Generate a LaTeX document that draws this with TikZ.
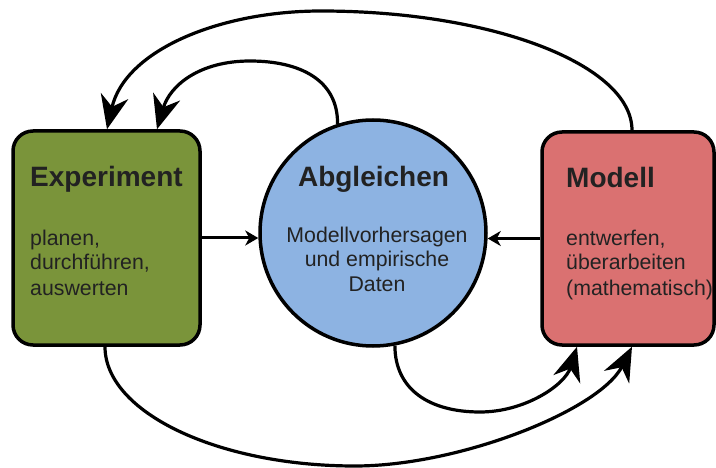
\documentclass[tikz,border=0pt]{standalone}
\usepackage{fontspec}
\setmainfont{Liberation Sans}
\usetikzlibrary{arrows.meta}
\definecolor{expgreen}{RGB}{122,148,58}
\definecolor{abgblue}{RGB}{141,179,226}
\definecolor{modred}{RGB}{218,113,113}
\definecolor{txt}{RGB}{34,34,34}
\begin{document}
\begin{tikzpicture}[x=1pt,y=-1pt,
  box/.style={draw=black,line width=3.5pt,rounded corners=20pt,inner sep=0pt},
  title/.style={font=\fontsize{28}{34}\selectfont\bfseries,text=txt,inner sep=0pt,anchor=base west},
  body/.style={font=\fontsize{21.3}{25}\selectfont,text=txt,inner sep=0pt,align=left,anchor=base west},
  conn/.style={line width=3.2pt,-{Stealth[length=34pt,width=28pt,inset=11pt]}},
  smallarrow/.style={line width=3pt,-{Stealth[length=13pt,width=15pt,inset=4pt]}}]
\useasboundingbox (0,0) rectangle (716,468);
\fill[white] (0,0) rectangle (716,468);
% main shapes
\node[box,fill=expgreen,minimum width=187pt,minimum height=214pt] (exp) at (106.5,238) {};
\node[circle,draw=black,line width=3.5pt,fill=abgblue,minimum size=226pt,inner sep=0pt] (abg) at (373,233) {};
\node[box,fill=modred,minimum width=172pt,minimum height=213pt] (mod) at (628,238.5) {};
% texts (anchor base = baseline of the last line)
\node[title] (expt) at (30,187) {Experiment};
\node[body] (expb) at (30,295) {planen,\\durchführen,\\auswerten};
\node[title,anchor=base] (abgt) at (373.5,187) {Abgleichen};
\node[body,align=center,anchor=base] (abgb) at (377,292) {Modellvorhersagen\\und empirische\\Daten};
\node[title] (modt) at (566,188) {Modell};
\node[body] (modb) at (566,295) {entwerfen,\\überarbeiten\\(mathematisch)};
% straight connectors
\draw[smallarrow] (exp.east) -- (exp.east -| abg.west);
\draw[smallarrow] (mod.west) -- (mod.west -| abg.east);
% top arcs
\draw[conn] ([xshift=4pt]mod.north) .. controls (632,65) and (493,11) .. (321,11)
  .. controls (220,11) and (125,50) .. ([xshift=0.5pt]exp.north);
\draw[conn] (abg.108) .. controls (338,80) and (300,61) .. (250,61)
  .. controls (200,61) and (170,85) .. ([xshift=50.5pt]exp.north);
% bottom arcs
\draw[conn] ([xshift=-1.5pt]exp.south) .. controls (105,412) and (217,466) .. (355,466)
  .. controls (460,466) and (600,410) .. ([xshift=4pt]mod.south);
\draw[conn] (abg.-79) .. controls (395,390) and (430,412) .. (480,412)
  .. controls (525,412) and (565,385) .. ([xshift=-51pt]mod.south);
\end{tikzpicture}
\end{document}
